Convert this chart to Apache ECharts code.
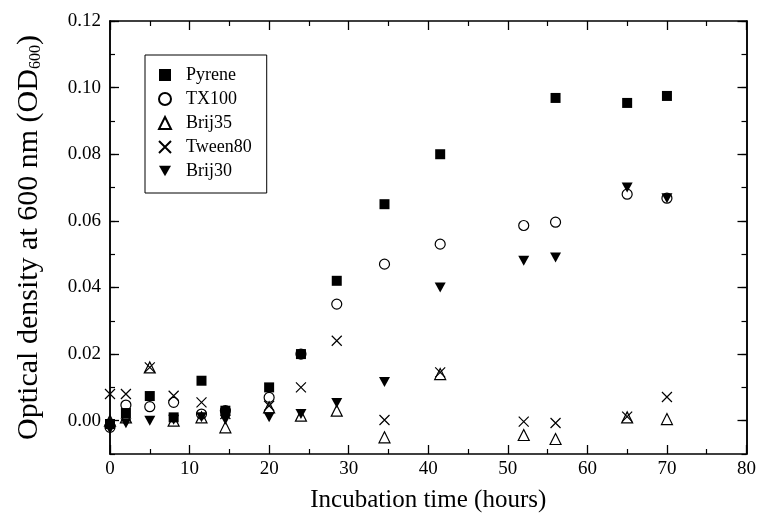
<!DOCTYPE html>
<html>
<head>
<meta charset="utf-8">
<script src="https://cdn.jsdelivr.net/npm/echarts@6/dist/echarts.min.js"></script>
<style>
html,body{margin:0;padding:0;background:#fff;}
#chart{width:759px;height:520px;}
</style>
</head>
<body>
<div id="chart"></div>
<script>
// Incubation time (hours)
const times = [0, 2, 5, 8, 11.5, 14.5, 20, 24, 28.5, 34.5, 41.5, 52, 56, 65, 70];
const pyrene  = [-0.001, 0.0023, 0.0074, 0.001, 0.012, 0.003, 0.010, 0.020, 0.042, 0.065, 0.080, null, 0.0969, 0.0954, 0.0975];
const tx100   = [-0.002, 0.0047, 0.0042, 0.0055, 0.002, 0.003, 0.007, 0.020, 0.035, 0.047, 0.053, 0.0586, 0.0596, 0.068, 0.0668];
const brij35  = [0.000, 0.001, 0.016, 0.000, 0.001, -0.002, 0.004, 0.0015, 0.003, -0.005, 0.014, -0.0043, -0.0055, 0.001, 0.0005];
const tween80 = [0.008, 0.008, 0.016, 0.0075, 0.0055, 0.002, 0.0045, 0.010, 0.024, 0.0002, 0.0145, -0.0003, -0.0007, 0.0012, 0.0071];
const brij30  = [-0.0025, -0.0008, 0.000, 0.0003, 0.001, 0.0003, 0.001, 0.002, 0.0053, 0.0116, 0.040, 0.048, 0.049, 0.070, 0.0668];
const yTickLabels = [0, 0.02, 0.04, 0.06, 0.08, 0.10, 0.12];
const yMinorTicks = [-0.01, 0, 0.01, 0.02, 0.03, 0.04, 0.05, 0.06, 0.07, 0.08, 0.09, 0.10, 0.11, 0.12];

const FONT = '"Liberation Serif", "Times New Roman", serif';
const pairs = arr => times.map((t, i) => [t, arr[i]]).filter(p => p[1] !== null);

const chart = echarts.init(document.getElementById('chart'), null, {renderer: 'canvas'});
const axisLine = {show: true, onZero: false, lineStyle: {color: '#000', width: 1.5}};
const xBase = {
  type: 'value', min: 0, max: 80, interval: 10,
  axisLine: axisLine, splitLine: {show: false},
  axisTick: {show: true, inside: true, length: 9, lineStyle: {color: '#000', width: 1.3}},
  minorTick: {show: true, splitNumber: 2, length: 5, lineStyle: {color: '#000', width: 1.2}}
};
const yBase = {
  type: 'value', min: -0.01, max: 0.12,
  axisLine: axisLine, splitLine: {show: false}
};
const open = {color: 'transparent', borderColor: '#000', borderWidth: 1.2, opacity: 1};
const solid = {color: '#000', opacity: 1};

chart.setOption({
  animation: false,
  backgroundColor: '#fff',
  grid: {left: 110, right: 11, top: 21, bottom: 66, containLabel: false},
  legend: {
    orient: 'vertical', left: 145, top: 55,
    data: ['Pyrene', 'TX100', 'Brij35', 'Tween80', 'Brij30'],
    itemWidth: 12, itemHeight: 12, itemGap: 6,
    padding: [11, 15, 13, 13],
    borderColor: '#000', borderWidth: 1,
    textStyle: {fontFamily: FONT, fontSize: 18, color: '#000', padding: [0, 0, 0, 10]}
  },
  xAxis: [
    Object.assign({}, xBase, {
      position: 'bottom',
      name: 'Incubation time (hours)', nameLocation: 'middle', nameGap: 34,
      nameTextStyle: {fontFamily: FONT, fontSize: 25, color: '#000'},
      axisLabel: {fontFamily: FONT, fontSize: 19, color: '#000', margin: 6}
    }),
    Object.assign({}, xBase, {position: 'top', axisLabel: {show: false}})
  ],
  yAxis: [
    Object.assign({}, yBase, {
      position: 'left',
      name: '{a|Optical density at 600 nm (OD}{s|600}{a|)}',
      nameLocation: 'middle', nameGap: 66,
      nameTextStyle: {
        rich: {
          a: {fontFamily: FONT, fontSize: 30, color: '#000', lineHeight: 34, verticalAlign: 'bottom'},
          s: {fontFamily: FONT, fontSize: 16, color: '#000', lineHeight: 34, verticalAlign: 'bottom'}
        }
      },
      axisLabel: {fontFamily: FONT, fontSize: 19, color: '#000', margin: 9,
        customValues: yTickLabels, formatter: v => v.toFixed(2)},
      axisTick: {show: true, inside: true, length: 9, customValues: yTickLabels,
        lineStyle: {color: '#000', width: 1.3}}
    }),
    Object.assign({}, yBase, {
      position: 'left', axisLabel: {show: false},
      axisTick: {show: true, inside: true, length: 5, customValues: yMinorTicks,
        lineStyle: {color: '#000', width: 1.2}}
    }),
    Object.assign({}, yBase, {
      position: 'right', axisLabel: {show: false},
      axisTick: {show: true, inside: true, length: 9, customValues: yTickLabels,
        lineStyle: {color: '#000', width: 1.3}}
    }),
    Object.assign({}, yBase, {
      position: 'right', axisLabel: {show: false},
      axisTick: {show: true, inside: true, length: 5, customValues: yMinorTicks,
        lineStyle: {color: '#000', width: 1.2}}
    })
  ],
  series: [
    {name: 'Pyrene', type: 'scatter', data: pairs(pyrene), symbol: 'rect', symbolSize: 10,
     itemStyle: solid},
    {name: 'TX100', type: 'scatter', data: pairs(tx100), symbol: 'circle', symbolSize: 10,
     itemStyle: open},
    {name: 'Brij35', type: 'scatter', data: pairs(brij35), symbol: 'triangle', symbolSize: 11,
     itemStyle: open},
    {name: 'Tween80', type: 'scatter', data: pairs(tween80), symbol: 'path://M0,0L10,10M0,10L10,0', symbolSize: 10,
     itemStyle: open},
    {name: 'Brij30', type: 'scatter', data: pairs(brij30), symbol: 'path://M0,0L10,0L5,8.66Z', symbolSize: [11, 10],
     itemStyle: solid}
  ]
});
</script>
</body>
</html>
